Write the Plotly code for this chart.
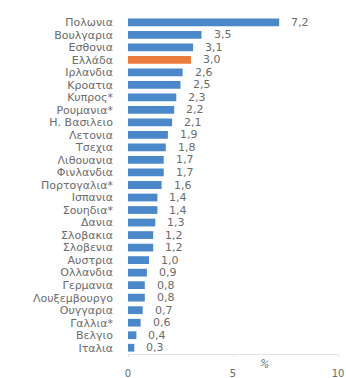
import plotly.graph_objects as go

countries = ["Πολωνια", "Βουλγαρια", "Εσθονια", "Ελλάδα", "Ιρλανδια", "Κροατια",
             "Κυπρος*", "Ρουμανια*", "Η. Βασιλειο", "Λετονια", "Τσεχια", "Λιθουανια",
             "Φινλανδια", "Πορτογαλια*", "Ισπανια", "Σουηδια*", "Δανια", "Σλοβακια",
             "Σλοβενια", "Αυστρια", "Ολλανδια", "Γερμανια", "Λουξεμβουργο", "Ουγγαρια",
             "Γαλλια*", "Βελγιο", "Ιταλια"]
values = [7.2, 3.5, 3.1, 3.0, 2.6, 2.5, 2.3, 2.2, 2.1, 1.9, 1.8, 1.7, 1.7, 1.6,
          1.4, 1.4, 1.3, 1.2, 1.2, 1.0, 0.9, 0.8, 0.8, 0.7, 0.6, 0.4, 0.3]
highlight = "Ελλάδα"
x_ticks = [0, 5, 10]

BLUE = "#4a88c9"
ORANGE = "#ec7a3c"
GRAY = "#6b6b6b"
FONT = "DejaVu Sans"

colors = [ORANGE if c == highlight else BLUE for c in countries]

fig = go.Figure(go.Bar(
    x=values, y=countries, orientation="h",
    marker=dict(color=colors, line=dict(width=0)),
    hoverinfo="skip",
))

for c, v in zip(countries, values):
    fig.add_annotation(x=v, y=c, text=f"{v:.1f}".replace(".", ","),
                       xanchor="left", yanchor="middle", xshift=10,
                       showarrow=False, font=dict(family=FONT, size=11, color=GRAY))

fig.add_annotation(x=6.5, y=0, yref="paper", yshift=-19, text="%",
                   showarrow=False, textangle=20,
                   font=dict(family=FONT, size=10, color=GRAY))

fig.update_layout(
    width=346, height=378,
    margin=dict(l=128, r=8, t=16, b=24),
    paper_bgcolor="white", plot_bgcolor="white",
    showlegend=False, bargap=0.38,
    font=dict(family=FONT, size=11, color=GRAY),
    xaxis=dict(range=[0, 10], tickvals=x_ticks, ticktext=[str(t) for t in x_ticks],
               automargin=False,
               showgrid=False, zeroline=False, showline=True,
               linecolor="#e3e3e3", linewidth=1, ticks="outside", ticklen=2,
               tickcolor="#e3e3e3", ticklabelstandoff=8,
               tickfont=dict(family=FONT, size=10, color=GRAY)),
    yaxis=dict(categoryorder="array", categoryarray=countries[::-1],
               tickmode="array", tickvals=countries, ticktext=countries,
               range=[-0.5, len(countries) - 0.5], automargin=False,
               showgrid=False, zeroline=False, showline=False, ticks="",
               ticklabelstandoff=14,
               tickfont=dict(family=FONT, size=11, color=GRAY)),
)

fig.write_html("out.html")
